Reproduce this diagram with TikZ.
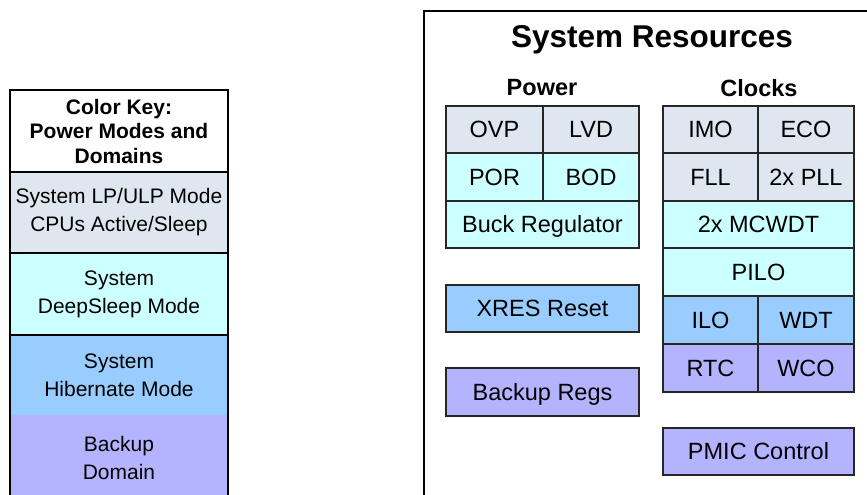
\documentclass[tikz,border=0pt]{standalone}
\usepackage{fontspec}
\setmainfont{Liberation Sans}
\definecolor{lpc}{RGB}{222,231,240}
\definecolor{dsc}{RGB}{204,255,255}
\definecolor{hbc}{RGB}{153,204,255}
\definecolor{bkc}{RGB}{179,179,255}
\begin{document}
\begin{tikzpicture}[x=1pt,y=-1pt,
  cell/.style={draw=black!85,line width=1.1pt,minimum height=47pt,inner sep=0pt,
    text height=16.8pt,text depth=0pt,
    font=\fontsize{23.5}{28}\selectfont},
  keyrow/.style={inner sep=0pt,minimum width=218pt,align=center,
    font=\fontsize{21}{28}\selectfont},
  frame/.style={line width=2.4pt,black}]
\useasboundingbox (0,0) rectangle (867,495);
\clip (0,0) rectangle (867,495);
% ---------- Color key ----------
\node[keyrow,fill=white,minimum height=82pt,font=\fontsize{21}{24.5}\selectfont\bfseries] (hdr) at (119,131) {Color Key:\\Power Modes and\\Domains};
\node[keyrow,fill=lpc,minimum height=81pt] (lp) at (119,212.5) {System LP/ULP Mode\\CPUs Active/Sleep};
\node[keyrow,fill=dsc,minimum height=82pt] (ds) at (119,294) {System\\DeepSleep Mode};
\node[keyrow,fill=hbc,minimum height=80pt] (hb) at (119,375) {System\\Hibernate Mode};
\node[keyrow,fill=bkc,minimum height=85pt] (bk) at (119,457.5) {Backup\\Domain};
\draw[frame] (bk.south west) -- (hdr.north west) -- (hdr.north east) -- (bk.south east);
\draw[frame] (hdr.south west) -- (hdr.south east);
\draw[frame] (lp.south west) -- (lp.south east);
\draw[frame] (ds.south west) -- (ds.south east);
% ---------- System resources ----------
\node[draw,frame,anchor=north west,minimum width=480pt,minimum height=520pt] (sys) at (423,10) {};
\node[font=\fontsize{31.5}{36}\selectfont\bfseries] (title) at (652,40) {System Resources};
\node[font=\fontsize{23.5}{28}\selectfont\bfseries] (power) at (542,88) {Power};
\node[font=\fontsize{23.5}{28}\selectfont\bfseries] (clocks) at (759,88) {Clocks};
% Power
\node[cell,fill=lpc,minimum width=97pt] (ovp) at (494.5,129.5) {OVP};
\node[cell,fill=lpc,minimum width=96pt] (lvd) at (591,129.5) {LVD};
\node[cell,fill=dsc,minimum width=97pt,minimum height=48pt] (por) at (494.5,177) {POR};
\node[cell,fill=dsc,minimum width=96pt,minimum height=48pt] (bod) at (591,177) {BOD};
\node[cell,fill=dsc,minimum width=193pt] (buck) at (542.5,224.5) {Buck Regulator};
\node[cell,fill=hbc,minimum width=193pt] (xres) at (542.5,308.5) {XRES Reset};
\node[cell,fill=bkc,minimum width=193pt,minimum height=48pt] (bregs) at (542.5,392) {Backup Regs};
% Clocks
\node[cell,fill=lpc,minimum width=95pt] (imo) at (710.5,129.5) {IMO};
\node[cell,fill=lpc,minimum width=96pt] (eco) at (806,129.5) {ECO};
\node[cell,fill=lpc,minimum width=95pt,minimum height=48pt] (fll) at (710.5,177) {FLL};
\node[cell,fill=lpc,minimum width=96pt,minimum height=48pt] (pll) at (806,177) {2x PLL};
\node[cell,fill=dsc,minimum width=191pt] (mcwdt) at (758.5,224.5) {2x MCWDT};
\node[cell,fill=dsc,minimum width=191pt,minimum height=48pt] (pilo) at (758.5,272) {PILO};
\node[cell,fill=hbc,minimum width=95pt,minimum height=48pt] (ilo) at (710.5,320) {ILO};
\node[cell,fill=hbc,minimum width=96pt,minimum height=48pt] (wdt) at (806,320) {WDT};
\node[cell,fill=bkc,minimum width=95pt,minimum height=48pt] (rtc) at (710.5,368) {RTC};
\node[cell,fill=bkc,minimum width=96pt,minimum height=48pt] (wco) at (806,368) {WCO};
\node[cell,fill=bkc,minimum width=191pt] (pmic) at (758.5,451.5) {PMIC Control};
\end{tikzpicture}
\end{document}
